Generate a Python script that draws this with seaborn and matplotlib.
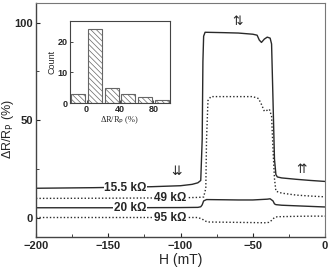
import numpy as np
import pandas as pd
import matplotlib
matplotlib.use('Agg')
import matplotlib.pyplot as plt
import seaborn as sns

# field sweep (mT) and dR/Rp (%) for the four junctions
h_155 = [-200, -160, -120, -100, -92, -88, -86, -85, -84.5, -84, -83, -70, -60, -50, -47,
         -45.5, -44, -42, -40, -38, -37, -36, -35, -34, -33, -30, -20, -10, 0]
r_155 = [15, 15.3, 15.8, 16.3, 17, 17.8, 19, 40, 80, 93, 95, 94.8, 94.6, 94, 93.5,
         91, 89.8, 91.5, 92.5, 92, 89, 60, 30, 22, 20.8, 20.3, 19.6, 19, 18.5]

h_49 = [-200, -150, -100, -88, -84, -82.5, -82, -81, -79, -70, -60, -50, -46, -44, -42,
        -40, -38.5, -37, -36, -35, -34, -30, -20, -10, 0]
r_49 = [9.8, 9.9, 10.1, 10.3, 10.5, 15, 40, 60, 62, 62, 62, 62, 61, 58, 54.5,
        55, 55.5, 52, 35, 20, 13.5, 12.5, 11.5, 11, 10.6]

h_20 = [-200, -150, -100, -88, -86, -85, -84, -82, -70, -60, -50, -45, -40, -38, -36,
        -35, -34, -30, -20, -10, 0]
r_20 = [5, 5, 5.1, 5.2, 5.5, 6.5, 8.5, 9.2, 9.1, 9.0, 9.0, 9.2, 9.4, 9.6, 8.5,
        7, 6.6, 6.3, 6.0, 5.7, 5.4]

h_95 = [-200, -150, -100, -88, -85, -83, -81, -70, -60, -50, -42, -39, -37, -35, -33,
        -20, -10, 0]
r_95 = [0, 0, 0, 0, -0.8, -1.8, -2.3, -2.4, -2.5, -2.6, -2.7, -2.5, -1.5, 0, 0.4,
        0.6, 0.7, 0.7]

# histogram of dR/Rp over junctions
hist_centers = [-10, 10, 30, 50, 70, 90]
hist_counts = [3, 24, 5, 3, 2, 1]

labels = ['15.5 kΩ', '49 kΩ', '20 kΩ', '95 kΩ']
label_pos = [(-138, 15), (-107, 9.8), (-135, 5), (-107, 0)]

sns.set_style('ticks')
plt.rcParams['font.family'] = ['Liberation Sans', 'DejaVu Sans']
plt.rcParams['xtick.direction'] = 'in'
plt.rcParams['ytick.direction'] = 'in'
plt.rcParams['hatch.color'] = '#666666'
plt.rcParams['hatch.linewidth'] = 0.5

fig = plt.figure(figsize=(3.3, 2.74), dpi=100)
ax = fig.add_axes([0.109, 0.135, 0.876, 0.854])

lc = '#2a2a2a'
sns.lineplot(x=h_155, y=r_155, ax=ax, color=lc, lw=1.0, sort=False)
sns.lineplot(x=h_49, y=r_49, ax=ax, color=lc, lw=1.0, ls=(0, (1, 1.5)), sort=False)
sns.lineplot(x=h_20, y=r_20, ax=ax, color=lc, lw=1.0, sort=False)
sns.lineplot(x=h_95, y=r_95, ax=ax, color=lc, lw=1.0, ls=(0, (1, 1.5)), sort=False)

for txt, (hx, ry) in zip(labels, label_pos):
    ax.text(hx, ry, txt, ha='center', va='center', fontsize=8.5, fontweight='bold',
            zorder=5, bbox=dict(facecolor='white', edgecolor='none', pad=0.3))

ax.text(-103, 23.5, '⇊', ha='center', va='center', fontsize=9,
        family=['DejaVu Sans'])
ax.text(-60.5, 100.5, '⇅', ha='center', va='center', fontsize=9,
        family=['DejaVu Sans'])
ax.text(-16.5, 24.5, '⇈', ha='center', va='center', fontsize=9,
        family=['DejaVu Sans'])

ax.set_xlim(-200, 0)
ax.set_ylim(-10, 110)
ax.set_xticks([-200, -150, -100, -50, 0])
ax.set_xticks([-175, -125, -75, -25], minor=True)
ax.set_yticks([0, 50, 100])
ax.set_yticks([25, 75], minor=True)
ax.tick_params(which='major', length=3, width=0.8, labelsize=8, pad=3)
ax.tick_params(axis='y', which='major', pad=2)
ax.tick_params(which='minor', length=2, width=0.6)
for lbl in ax.get_xticklabels() + ax.get_yticklabels():
    lbl.set_fontweight('bold')
ax.set_xlabel('H (mT)', fontsize=10, labelpad=1)
ax.set_ylabel('ΔR/R$_\\mathrm{P}$ (%)', fontsize=9)
ax.yaxis.set_label_coords(-0.068, 0.46)
for s in ['left', 'bottom']:
    ax.spines[s].set_color('#444444')
    ax.spines[s].set_linewidth(1.0)
for s in ['top', 'right']:
    ax.spines[s].set_color('#777777')
    ax.spines[s].set_linewidth(0.8)

# inset histogram
ins = fig.add_axes([0.212, 0.624, 0.303, 0.299])
hist_df = pd.DataFrame({'center': hist_centers, 'count': hist_counts})
sns.barplot(data=hist_df, x='center', y='count', native_scale=True, width=0.85,
            color='white', edgecolor='#666666', linewidth=0.8, hatch='\\\\\\\\\\\\',
            ax=ins)
ins.set_xlim(-20, 100)
ins.set_ylim(0, 26.7)
ins.set_xticks([0, 40, 80])
ins.set_yticks([0, 10, 20])
ins.tick_params(length=2, width=0.6, labelsize=6.5, pad=1.5)
for lbl in ins.get_xticklabels() + ins.get_yticklabels():
    lbl.set_fontweight('bold')
ins.set_ylabel('Count', fontsize=6.5, labelpad=1)
ins.set_xlabel('ΔR/R$_\\mathrm{P}$ (%)', fontsize=6, labelpad=0.5, family=['Liberation Serif'])
for s in ins.spines.values():
    s.set_color('#444444')
    s.set_linewidth(0.8)

fig.savefig('out.png', dpi=100)
